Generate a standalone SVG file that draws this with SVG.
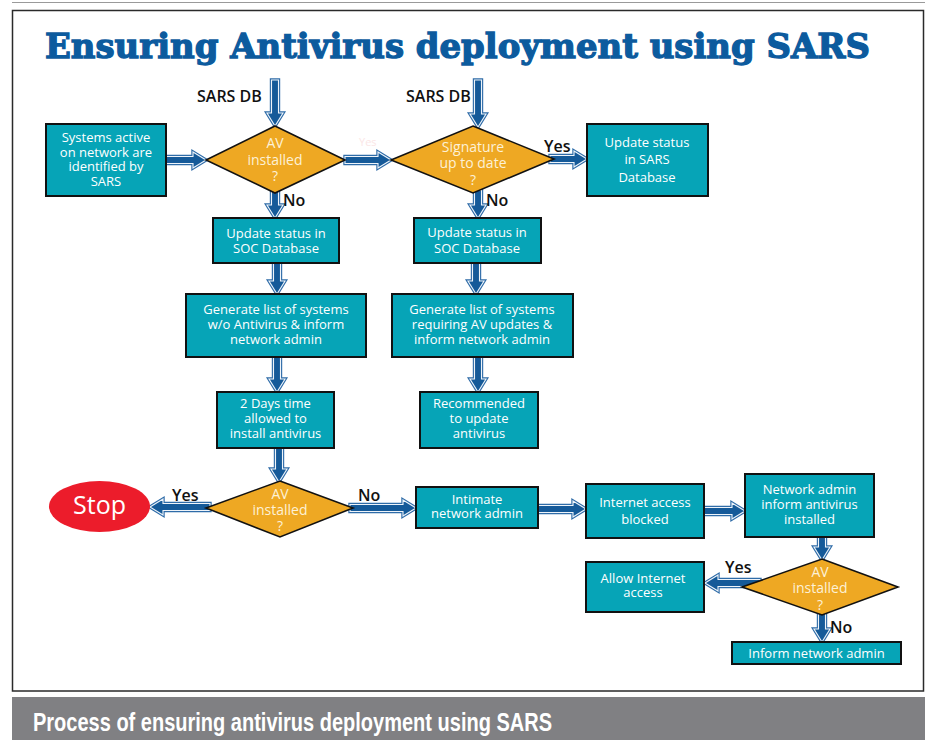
<svg xmlns="http://www.w3.org/2000/svg" xmlns:xlink="http://www.w3.org/1999/xlink" width="925" height="740" viewBox="0 0 925 740">
  <style>
    .box { fill: #06a4b7; stroke: #111; stroke-width: 2; }
    .dia { fill: #eea823; stroke: #111; stroke-width: 1.6; stroke-linejoin: miter; }
    .t { font-family: "Open Sans", "Noto Sans", "Liberation Sans", sans-serif; font-weight: 500; fill: #ffffff; text-anchor: middle; font-size: 13px; }
    .td { font-family: "Open Sans", "Noto Sans", "Liberation Sans", sans-serif; font-weight: 500; fill: #fdf1d6; text-anchor: middle; font-size: 14px; }
    .lbl { font-family: "Open Sans", "Noto Sans", "Liberation Sans", sans-serif; font-weight: 600; fill: #111; font-size: 16px; }
    .ao { fill: none; stroke: #2f6ca8; stroke-width: 3.4; stroke-linejoin: miter; }
    .ai { fill: #155a99; stroke: #eef4fa; stroke-width: 1.1; stroke-linejoin: miter; }
  </style>
  <defs>
    <path id="p1" d="M271.5,80 H278.5 V113 H283 L275,126 L267,113 H271.5 Z"/>
    <path id="p2" d="M474.5,80 H481.5 V114 H486 L478,127 L470,114 H474.5 Z"/>
    <path id="p3" d="M166,156.5 H193 V152 L206,160 L193,168 V163.5 H166 Z"/>
    <path id="p4" d="M345,156.5 H378 V152 L391,160 L378,168 V163.5 H345 Z"/>
    <path id="p5" d="M550,155.5 H574 V151 L587,159 L574,167 V162.5 H550 Z"/>
    <path id="p6" d="M271.5,190 H278.5 V205 H283 L275,218 L267,205 H271.5 Z"/>
    <path id="p7" d="M474.5,190 H481.5 V205 H486 L478,218 L470,205 H474.5 Z"/>
    <path id="p8" d="M273.5,263 H280.5 V281 H285 L277,294 L269,281 H273.5 Z"/>
    <path id="p9" d="M472.5,263 H479.5 V281 H484 L476,294 L468,281 H472.5 Z"/>
    <path id="p10" d="M273.5,357 H280.5 V379 H285 L277,392 L269,379 H273.5 Z"/>
    <path id="p11" d="M474.5,357 H481.5 V379 H486 L478,392 L470,379 H474.5 Z"/>
    <path id="p12" d="M275.5,448 H282.5 V469 H287 L279,482 L271,469 H275.5 Z"/>
    <path id="p13" d="M210,503.5 H163 V499 L150,507 L163,515 V510.5 H210 Z"/>
    <path id="p14" d="M350,504.5 H403 V500 L416,508 L403,516 V511.5 H350 Z"/>
    <path id="p15" d="M538,505.5 H573 V501 L586,509 L573,517 V512.5 H538 Z"/>
    <path id="p16" d="M704,507.5 H732 V503 L745,511 L732,519 V514.5 H704 Z"/>
    <path id="p17" d="M818.5,537 H825.5 V547 H830 L822,560 L814,547 H818.5 Z"/>
    <path id="p18" d="M760,579.5 H718 V575 L705,583 L718,591 V586.5 H760 Z"/>
    <path id="p19" d="M818.5,612 H825.5 V629 H830 L822,642 L814,629 H818.5 Z"/>
  </defs>

  <!-- page frame -->
  <rect x="0" y="0" width="925" height="740" fill="#ffffff"/>
  <line x1="12" y1="2.5" x2="925" y2="2.5" stroke="#9a9a9a" stroke-width="1"/>
  <rect x="12.5" y="10.5" width="911" height="680.5" fill="none" stroke="#2a2a2a" stroke-width="1.5"/>

  <!-- heading -->
  <text x="45" y="58" font-family="'DejaVu Serif', 'Liberation Serif', serif" font-weight="700" font-size="34" fill="#0c5b9e" stroke="#0c5b9e" stroke-width="1.3" textLength="825" lengthAdjust="spacingAndGlyphs">Ensuring Antivirus deployment using SARS</text>

  <!-- connectors -->
  <g id="connectors">
    <use xlink:href="#p1" class="ao"/><use xlink:href="#p1" class="ai"/>
    <use xlink:href="#p2" class="ao"/><use xlink:href="#p2" class="ai"/>
    <use xlink:href="#p3" class="ao"/><use xlink:href="#p3" class="ai"/>
    <use xlink:href="#p4" class="ao"/><use xlink:href="#p4" class="ai"/>
    <use xlink:href="#p5" class="ao"/><use xlink:href="#p5" class="ai"/>
    <use xlink:href="#p6" class="ao"/><use xlink:href="#p6" class="ai"/>
    <use xlink:href="#p7" class="ao"/><use xlink:href="#p7" class="ai"/>
    <use xlink:href="#p8" class="ao"/><use xlink:href="#p8" class="ai"/>
    <use xlink:href="#p9" class="ao"/><use xlink:href="#p9" class="ai"/>
    <use xlink:href="#p10" class="ao"/><use xlink:href="#p10" class="ai"/>
    <use xlink:href="#p11" class="ao"/><use xlink:href="#p11" class="ai"/>
    <use xlink:href="#p12" class="ao"/><use xlink:href="#p12" class="ai"/>
    <use xlink:href="#p13" class="ao"/><use xlink:href="#p13" class="ai"/>
    <use xlink:href="#p14" class="ao"/><use xlink:href="#p14" class="ai"/>
    <use xlink:href="#p15" class="ao"/><use xlink:href="#p15" class="ai"/>
    <use xlink:href="#p16" class="ao"/><use xlink:href="#p16" class="ai"/>
    <use xlink:href="#p17" class="ao"/><use xlink:href="#p17" class="ai"/>
    <use xlink:href="#p18" class="ao"/><use xlink:href="#p18" class="ai"/>
    <use xlink:href="#p19" class="ao"/><use xlink:href="#p19" class="ai"/>
    <!-- branch labels -->
    <text class="lbl" x="197" y="102">SARS DB</text>
    <text class="lbl" x="406" y="102">SARS DB</text>
    <text class="lbl" x="283" y="206">No</text>
    <text class="lbl" x="486" y="206">No</text>
    <text class="lbl" x="544" y="152">Yes</text>
    <text x="359" y="146" font-family="'Open Sans', sans-serif" font-size="11" fill="#fbe6e6">Yes</text>
    <text class="lbl" x="172" y="501">Yes</text>
    <text class="lbl" x="358" y="501">No</text>
    <text class="lbl" x="725" y="573">Yes</text>
    <text class="lbl" x="830" y="633" font-size="19">No</text>
  </g>

  <!-- nodes -->
  <g id="n-systems-active">
    <rect class="box" x="46" y="124" width="120" height="72"/>
    <text class="t" x="106" y="142">Systems active</text>
    <text class="t" x="106" y="156.5">on network are</text>
    <text class="t" x="106" y="171">identified by</text>
    <text class="t" x="106" y="186">SARS</text>
  </g>
  <g id="n-av-installed-1">
    <polygon class="dia" points="275,126 345,160 275,193 206,160"/>
    <text class="td" x="275" y="148">AV</text>
    <text class="td" x="275" y="165">installed</text>
    <text class="td" x="275" y="181">?</text>
  </g>
  <g id="n-signature">
    <polygon class="dia" points="473,126 554,159 473,193 391,160"/>
    <text class="td" x="473" y="152">Signature</text>
    <text class="td" x="473" y="168">up to date</text>
    <text class="td" x="473" y="185">?</text>
  </g>
  <g id="n-update-sars">
    <rect class="box" x="587" y="124" width="121" height="72"/>
    <text class="t" x="647" y="147" font-size="14.5">Update status</text>
    <text class="t" x="647" y="164" font-size="14.5">in SARS</text>
    <text class="t" x="647" y="182" font-size="14.5">Database</text>
  </g>
  <g id="n-soc-left">
    <rect class="box" x="213" y="218" width="126" height="45"/>
    <text class="t" x="276" y="238">Update status in</text>
    <text class="t" x="276" y="253">SOC Database</text>
  </g>
  <g id="n-soc-right">
    <rect class="box" x="414" y="218" width="127" height="45"/>
    <text class="t" x="477" y="237">Update status in</text>
    <text class="t" x="477" y="253">SOC Database</text>
  </g>
  <g id="n-list-no-av">
    <rect class="box" x="186" y="294" width="180" height="63"/>
    <text class="t" x="276" y="314">Generate list of systems</text>
    <text class="t" x="276" y="329">w/o Antivirus &amp; inform</text>
    <text class="t" x="276" y="344">network admin</text>
  </g>
  <g id="n-list-updates">
    <rect class="box" x="392" y="294" width="181" height="63"/>
    <text class="t" x="482" y="314">Generate list of systems</text>
    <text class="t" x="482" y="329">requiring AV updates &amp;</text>
    <text class="t" x="482" y="344">inform network admin</text>
  </g>
  <g id="n-two-days">
    <rect class="box" x="217" y="392" width="117" height="56"/>
    <text class="t" x="275.5" y="408">2 Days time</text>
    <text class="t" x="275.5" y="423">allowed to</text>
    <text class="t" x="275.5" y="438">install antivirus</text>
  </g>
  <g id="n-recommended">
    <rect class="box" x="420" y="392" width="118" height="56"/>
    <text class="t" x="479" y="408">Recommended</text>
    <text class="t" x="479" y="423">to update</text>
    <text class="t" x="479" y="438">antivirus</text>
  </g>
  <g id="n-av-installed-2">
    <polygon class="dia" points="280,481 353,508 280,537 206,508"/>
    <text class="td" x="280" y="499">AV</text>
    <text class="td" x="280" y="515">installed</text>
    <text class="td" x="280" y="531">?</text>
  </g>
  <g id="n-stop">
    <ellipse cx="99.5" cy="506.5" rx="50.5" ry="25.5" fill="#ec1c2b"/>
    <text x="99.5" y="514" font-family="'Open Sans', 'Noto Sans', sans-serif" font-weight="500" font-size="25" fill="#ffffff" text-anchor="middle">Stop</text>
  </g>
  <g id="n-intimate">
    <rect class="box" x="416" y="487" width="122" height="41"/>
    <text class="t" x="477" y="504">Intimate</text>
    <text class="t" x="477" y="518">network admin</text>
  </g>
  <g id="n-blocked">
    <rect class="box" x="586" y="484" width="118" height="54"/>
    <text class="t" x="645" y="507" font-size="15">Internet access</text>
    <text class="t" x="645" y="524" font-size="15">blocked</text>
  </g>
  <g id="n-admin-informs">
    <rect class="box" x="745" y="474" width="129" height="63"/>
    <text class="t" x="809.5" y="494" font-size="13.5">Network admin</text>
    <text class="t" x="809.5" y="509" font-size="13.5">inform antivirus</text>
    <text class="t" x="809.5" y="524" font-size="13.5">installed</text>
  </g>
  <g id="n-av-installed-3">
    <polygon class="dia" points="822,559 898,587 822,615 742,587"/>
    <text class="td" x="820" y="577" font-size="15">AV</text>
    <text class="td" x="820" y="593" font-size="15">installed</text>
    <text class="td" x="820" y="610" font-size="15">?</text>
  </g>
  <g id="n-allow">
    <rect class="box" x="586" y="562" width="118" height="50"/>
    <text class="t" x="643" y="583">Allow Internet</text>
    <text class="t" x="643" y="597">access</text>
  </g>
  <g id="n-inform">
    <rect class="box" x="732" y="642" width="169" height="22"/>
    <text class="t" x="816.5" y="658" font-size="13.5">Inform network admin</text>
  </g>

  <!-- caption bar -->
  <rect x="12" y="697" width="913" height="43" fill="#808083"/>
  <text x="33" y="731" font-family="'Liberation Sans', 'Open Sans', sans-serif" font-weight="700" font-size="25" fill="#ffffff" textLength="519" lengthAdjust="spacingAndGlyphs">Process of ensuring antivirus deployment using SARS</text>
</svg>
